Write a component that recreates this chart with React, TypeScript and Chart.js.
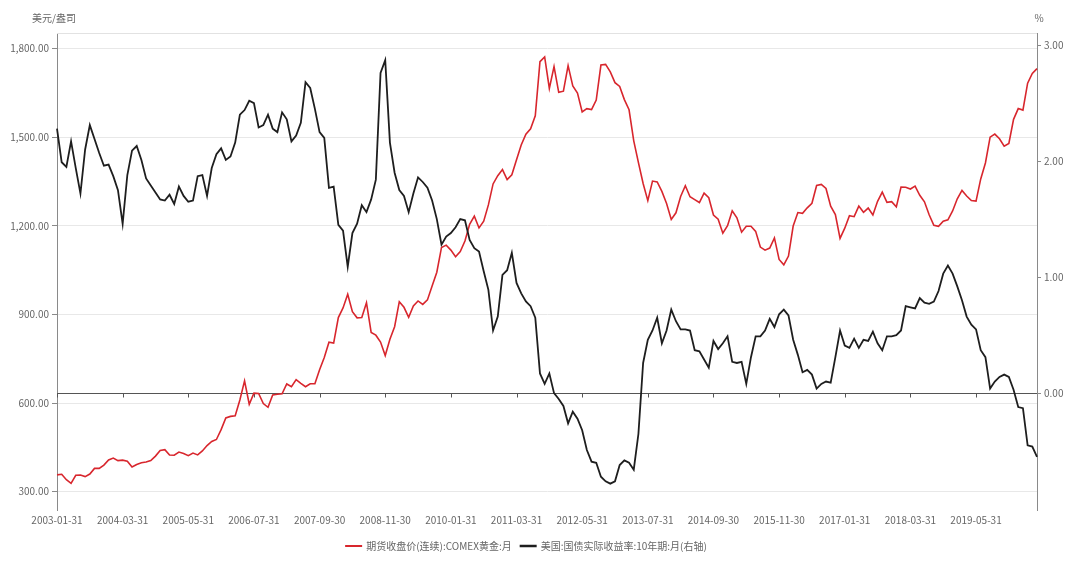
import React, { useEffect, useRef } from 'react';
import { Chart, registerables } from 'chart.js';

Chart.register(...registerables);

// COMEX gold, monthly (USD/oz)
const GOLD_2003 = [356.9, 359.0, 340.6, 328.2, 355.7, 356.4, 351.0, 359.8, 378.9, 378.9, 389.9, 407.6];
const GOLD_2004 = [414.0, 405.3, 406.7, 403.0, 383.5, 392.2, 398.1, 400.5, 405.3, 420.5, 439.4, 442.1];
const GOLD_2005 = [424.0, 423.4, 434.2, 429.2, 421.9, 430.7, 424.5, 437.9, 456.1, 469.9, 476.7, 510.1];
const GOLD_2006 = [549.9, 555.0, 557.1, 610.6, 675.4, 596.2, 633.7, 632.6, 598.2, 585.8, 627.8, 629.8];
const GOLD_2007 = [631.2, 664.8, 655.5, 679.4, 666.9, 655.5, 665.3, 665.4, 712.7, 754.6, 806.3, 803.2];
const GOLD_2008 = [889.6, 922.3, 968.4, 909.7, 888.7, 889.5, 939.8, 839.0, 829.9, 806.6, 760.9, 816.1];
const GOLD_2009 = [858.7, 943.2, 924.3, 890.2, 928.7, 945.7, 934.2, 949.4, 996.6, 1043.2, 1127.0, 1134.7];
const GOLD_2010 = [1118.0, 1095.4, 1113.3, 1148.7, 1205.4, 1232.9, 1193.0, 1215.8, 1271.0, 1342.0, 1369.9, 1390.6];
const GOLD_2011 = [1356.4, 1372.7, 1424.0, 1473.8, 1510.4, 1528.7, 1572.8, 1755.8, 1771.9, 1665.2, 1739.0, 1652.3];
const GOLD_2012 = [1656.1, 1742.6, 1673.8, 1649.7, 1585.5, 1596.7, 1593.9, 1626.0, 1744.5, 1746.6, 1721.6, 1684.8];
const GOLD_2013 = [1671.9, 1627.6, 1593.1, 1487.9, 1414.0, 1343.4, 1285.5, 1351.7, 1348.6, 1316.6, 1275.9, 1221.5];
const GOLD_2014 = [1244.3, 1299.6, 1336.1, 1298.5, 1288.7, 1279.1, 1310.6, 1295.1, 1236.6, 1222.5, 1175.3, 1200.6];
const GOLD_2015 = [1250.8, 1227.1, 1178.6, 1198.9, 1198.6, 1181.5, 1128.3, 1117.9, 1124.8, 1159.3, 1086.4, 1068.3];
const GOLD_2016 = [1097.9, 1199.5, 1245.1, 1242.3, 1261.0, 1276.4, 1336.7, 1340.2, 1326.6, 1266.6, 1238.4, 1157.4];
const GOLD_2017 = [1192.1, 1234.2, 1231.1, 1266.9, 1246.0, 1260.3, 1236.8, 1283.0, 1314.1, 1279.5, 1281.9, 1264.5];
const GOLD_2018 = [1331.3, 1330.7, 1324.7, 1334.8, 1303.5, 1281.6, 1237.7, 1201.7, 1198.4, 1215.4, 1220.7, 1250.4];
const GOLD_2019 = [1291.8, 1320.1, 1300.9, 1285.9, 1283.7, 1359.0, 1412.9, 1500.4, 1510.6, 1494.8, 1470.0, 1479.1];
const GOLD_2020 = [1560.7, 1597.1, 1591.9, 1683.2, 1715.9, 1732.2];

// US 10Y real yield, monthly (%)
const RY_2003 = [2.28, 1.99, 1.95, 2.17, 1.94, 1.72, 2.10, 2.31, 2.19, 2.07, 1.96, 1.97];
const RY_2004 = [1.87, 1.75, 1.46, 1.88, 2.09, 2.13, 2.01, 1.85, 1.79, 1.73, 1.67, 1.66];
const RY_2005 = [1.71, 1.63, 1.78, 1.70, 1.65, 1.66, 1.87, 1.88, 1.70, 1.94, 2.06, 2.11];
const RY_2006 = [2.01, 2.04, 2.16, 2.40, 2.44, 2.52, 2.50, 2.29, 2.31, 2.40, 2.28, 2.25];
const RY_2007 = [2.42, 2.36, 2.17, 2.22, 2.33, 2.68, 2.63, 2.45, 2.25, 2.20, 1.77, 1.78];
const RY_2008 = [1.45, 1.40, 1.09, 1.38, 1.46, 1.62, 1.56, 1.67, 1.84, 2.76, 2.87, 2.16];
const RY_2009 = [1.90, 1.75, 1.70, 1.56, 1.72, 1.86, 1.82, 1.77, 1.66, 1.50, 1.28, 1.35];
const RY_2010 = [1.38, 1.43, 1.50, 1.49, 1.32, 1.25, 1.22, 1.05, 0.89, 0.54, 0.66, 1.02];
const RY_2011 = [1.06, 1.21, 0.95, 0.86, 0.79, 0.75, 0.65, 0.17, 0.08, 0.17, 0.00, -0.05];
const RY_2012 = [-0.11, -0.26, -0.16, -0.22, -0.32, -0.49, -0.59, -0.60, -0.72, -0.76, -0.78, -0.76];
const RY_2013 = [-0.62, -0.58, -0.60, -0.66, -0.35, 0.26, 0.46, 0.54, 0.65, 0.43, 0.54, 0.72];
const RY_2014 = [0.62, 0.55, 0.55, 0.54, 0.37, 0.36, 0.29, 0.22, 0.45, 0.38, 0.43, 0.49];
const RY_2015 = [0.27, 0.26, 0.27, 0.08, 0.31, 0.49, 0.49, 0.54, 0.64, 0.57, 0.68, 0.72];
const RY_2016 = [0.67, 0.46, 0.33, 0.18, 0.20, 0.16, 0.04, 0.08, 0.10, 0.09, 0.31, 0.54];
const RY_2017 = [0.41, 0.39, 0.47, 0.39, 0.46, 0.45, 0.53, 0.43, 0.37, 0.49, 0.49, 0.50];
const RY_2018 = [0.54, 0.75, 0.74, 0.73, 0.82, 0.78, 0.77, 0.79, 0.88, 1.03, 1.10, 1.03];
const RY_2019 = [0.92, 0.80, 0.66, 0.59, 0.55, 0.37, 0.31, 0.04, 0.10, 0.14, 0.16, 0.14];
const RY_2020 = [0.03, -0.12, -0.13, -0.45, -0.46, -0.55];

const GOLD = [
  ...GOLD_2003, ...GOLD_2004, ...GOLD_2005, ...GOLD_2006, ...GOLD_2007, ...GOLD_2008,
  ...GOLD_2009, ...GOLD_2010, ...GOLD_2011, ...GOLD_2012, ...GOLD_2013, ...GOLD_2014,
  ...GOLD_2015, ...GOLD_2016, ...GOLD_2017, ...GOLD_2018, ...GOLD_2019, ...GOLD_2020,
];
const REAL_YIELD = [
  ...RY_2003, ...RY_2004, ...RY_2005, ...RY_2006, ...RY_2007, ...RY_2008,
  ...RY_2009, ...RY_2010, ...RY_2011, ...RY_2012, ...RY_2013, ...RY_2014,
  ...RY_2015, ...RY_2016, ...RY_2017, ...RY_2018, ...RY_2019, ...RY_2020,
];

const START_YEAR = 2003;
const CATEGORIES = GOLD.map((_, i) => {
  const y = START_YEAR + Math.floor(i / 12);
  const m = i % 12;
  const d = new Date(Date.UTC(y, m + 1, 0)).getUTCDate();
  return `${y}-${String(m + 1).padStart(2, '0')}-${d}`;
});
const TICK_EVERY = 14;

const LEFT_TICKS = [300, 600, 900, 1200, 1500, 1800];
const RIGHT_TICKS = [0, 1, 2, 3];

const SERIES_GOLD = '期货收盘价(连续):COMEX黄金:月';
const SERIES_RY = '美国:国债实际收益率:10年期:月(右轴)';
const LEFT_TITLE = '美元/盎司';
const RIGHT_TITLE = '%';

const RED = '#d8262d';
const BLACK = '#1e1e1e';
const FONT = '"Noto Sans CJK SC", "Noto Sans", sans-serif';
const TEXT = '#666666';

const overlay = {
  id: 'overlay',
  beforeDatasetsDraw(chart: any) {
    const { ctx, chartArea: a, scales } = chart;
    ctx.save();
    ctx.lineWidth = 1;
    ctx.strokeStyle = '#e2e2e2';
    ctx.beginPath();
    ctx.moveTo(a.left, Math.round(a.top) + 0.5);
    ctx.lineTo(a.right, Math.round(a.top) + 0.5);
    ctx.stroke();
    const y0 = Math.round(scales.y1.getPixelForValue(0)) + 0.5;
    ctx.strokeStyle = '#555555';
    ctx.beginPath();
    ctx.moveTo(a.left, y0);
    ctx.lineTo(a.right, y0);
    for (let i = 0; i < CATEGORIES.length; i += TICK_EVERY) {
      const x = Math.round(scales.x.getPixelForValue(i)) + 0.5;
      ctx.moveTo(x, y0);
      ctx.lineTo(x, y0 + 4);
    }
    ctx.stroke();
    ctx.restore();
  },
  afterDraw(chart: any) {
    const { ctx, chartArea: a } = chart;
    ctx.save();
    ctx.font = `10px ${FONT}`;
    ctx.fillStyle = TEXT;
    ctx.textBaseline = 'middle';
    ctx.textAlign = 'center';
    ctx.fillText(LEFT_TITLE, 54, 18);
    ctx.fillText(RIGHT_TITLE, a.right + 2, 18);

    // legend
    const items = [
      { label: SERIES_GOLD, color: RED, w: 2 },
      { label: SERIES_RY, color: BLACK, w: 2.5 },
    ];
    const sample = 17;
    const gapText = 4;
    const gapItem = 8;
    const widths = items.map((it) => ctx.measureText(it.label).width);
    const total = items.reduce((s, it, i) => s + sample + gapText + widths[i], 0) + gapItem * (items.length - 1);
    let x = 526 - total / 2;
    const ly = 546;
    ctx.textAlign = 'left';
    items.forEach((it, i) => {
      ctx.strokeStyle = it.color;
      ctx.lineWidth = it.w;
      ctx.beginPath();
      ctx.moveTo(x, ly);
      ctx.lineTo(x + sample, ly);
      ctx.stroke();
      x += sample + gapText;
      ctx.fillStyle = TEXT;
      ctx.fillText(it.label, x, ly);
      x += widths[i] + gapItem;
    });
    ctx.restore();
  },
};

export default function App() {
  const ref = useRef<HTMLCanvasElement | null>(null);
  useEffect(() => {
    if (!ref.current) return;
    const chart = new Chart(ref.current, {
      type: 'line',
      data: {
        labels: CATEGORIES,
        datasets: [
          {
            label: SERIES_GOLD,
            data: GOLD,
            yAxisID: 'y',
            borderColor: RED,
            backgroundColor: RED,
            borderWidth: 1.6,
            pointRadius: 0,
            tension: 0,
            order: 2,
          },
          {
            label: SERIES_RY,
            data: REAL_YIELD,
            yAxisID: 'y1',
            borderColor: BLACK,
            backgroundColor: BLACK,
            borderWidth: 1.8,
            pointRadius: 0,
            tension: 0,
            order: 1,
          },
        ],
      },
      options: {
        responsive: false,
        animation: false,
        layout: { padding: { top: 33, bottom: 32, left: 0, right: 0 } },
        plugins: {
          legend: { display: false },
          tooltip: { enabled: false },
        },
        scales: {
          x: {
            type: 'category',
            grid: { display: false, drawTicks: false, tickLength: 0 },
            border: { display: false },
            ticks: {
              autoSkip: false,
              maxRotation: 0,
              minRotation: 0,
              padding: 4,
              color: TEXT,
              font: { family: FONT, size: 10 },
              callback: (_v: any, i: number) => (i % TICK_EVERY === 0 ? CATEGORIES[i] : ''),
            },
            afterFit: (s: any) => {
              s.height = 20;
            },
          },
          y: {
            position: 'left',
            min: 238,
            max: 1853,
            afterBuildTicks: (s: any) => {
              s.ticks = LEFT_TICKS.map((v) => ({ value: v }));
            },
            grid: { color: '#e8e8e8', tickColor: '#8a8a8a', tickLength: 5 },
            border: { color: '#8a8a8a' },
            ticks: {
              padding: 3,
              color: TEXT,
              font: { family: FONT, size: 10 },
              callback: (v: any) =>
                Number(v).toLocaleString('en-US', { minimumFractionDigits: 2, maximumFractionDigits: 2 }),
            },
            afterFit: (s: any) => {
              s.width = 57;
            },
          },
          y1: {
            position: 'right',
            min: -1.007,
            max: 3.104,
            afterBuildTicks: (s: any) => {
              s.ticks = RIGHT_TICKS.map((v) => ({ value: v }));
            },
            grid: { drawOnChartArea: false, tickColor: '#8a8a8a', tickLength: 4 },
            border: { color: '#8a8a8a' },
            ticks: {
              padding: 3,
              color: TEXT,
              font: { family: FONT, size: 10 },
              callback: (v: any) => Number(v).toFixed(2),
            },
            afterFit: (s: any) => {
              s.width = 43;
            },
          },
        },
      },
      plugins: [overlay],
    } as any);
    return () => chart.destroy();
  }, []);
  return (
    <div style={{ position: 'fixed', left: 0, top: 0, width: 1080, height: 562, background: '#ffffff' }}>
      <canvas ref={ref} width={1080} height={562} style={{ display: 'block' }} />
    </div>
  );
}
